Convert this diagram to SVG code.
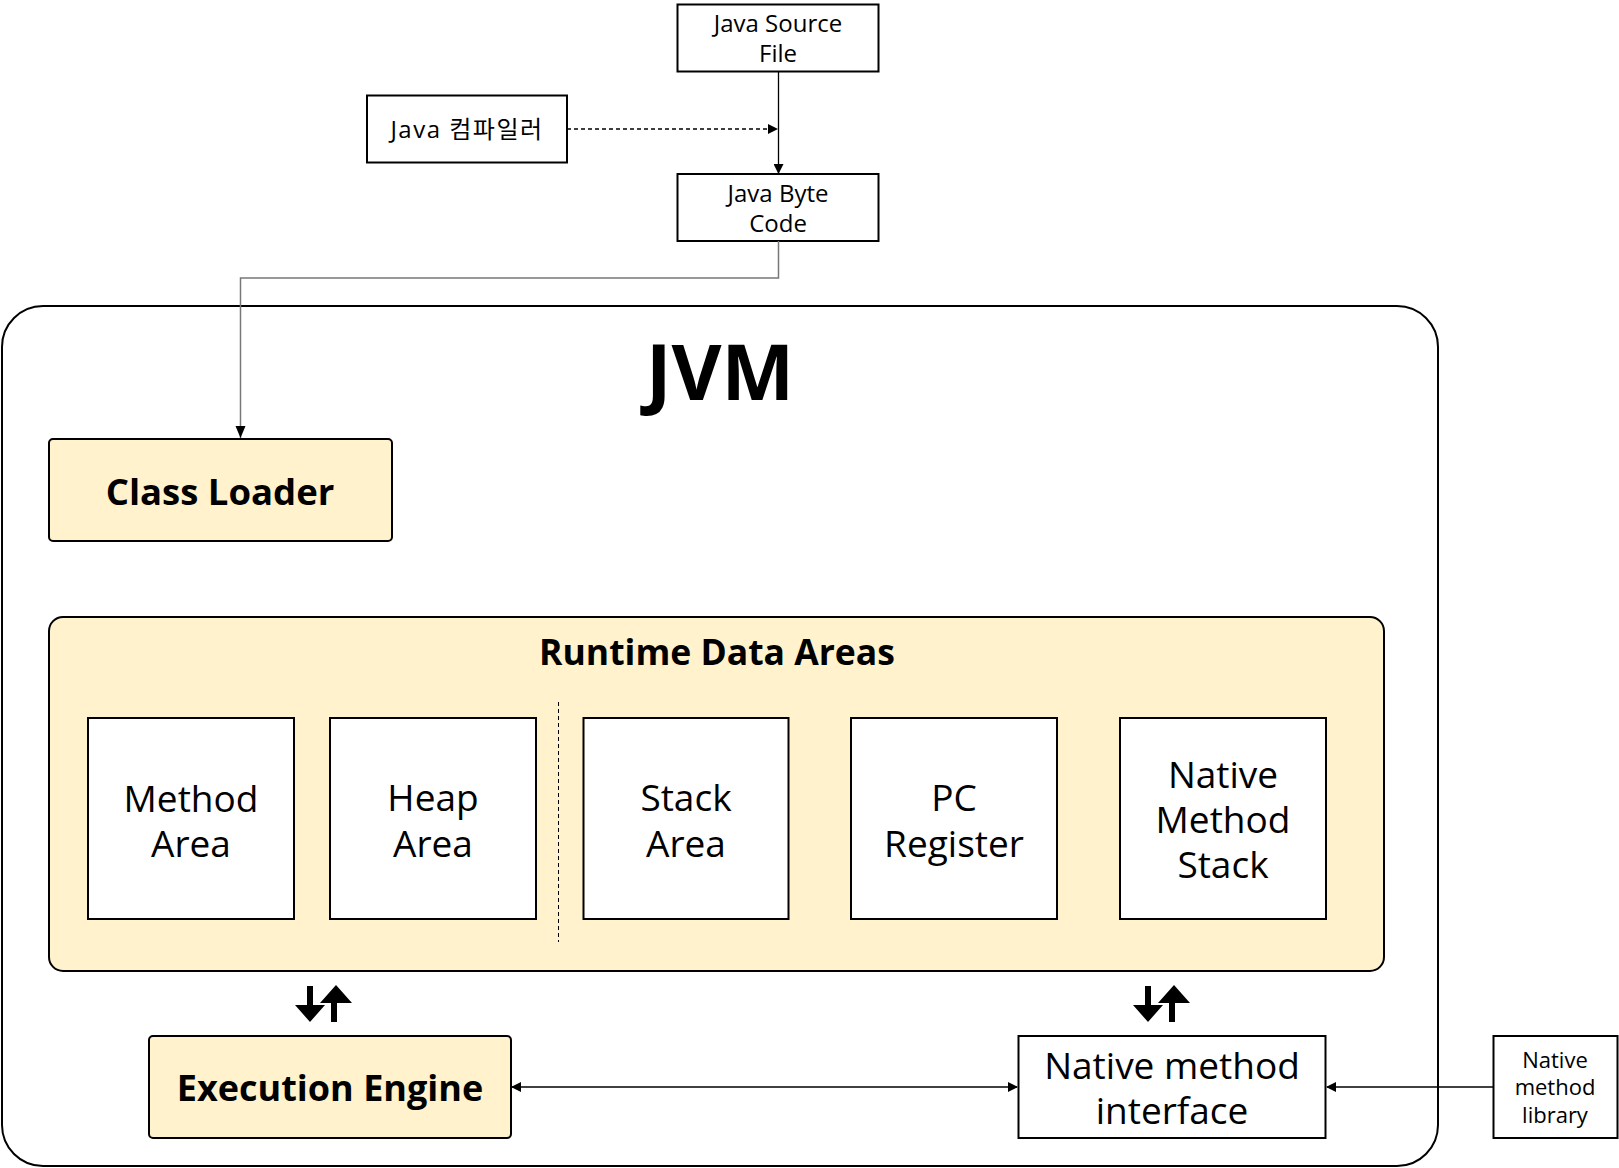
<svg xmlns="http://www.w3.org/2000/svg" width="1619" height="1168" viewBox="0 0 1619 1168">
<style>
text{font-family:"Open Sans","Noto Sans CJK KR",sans-serif;fill:#000;text-anchor:middle}
.box{fill:#fff;stroke:#000;stroke-width:2}
.yel{fill:#FFF2CC;stroke:#000;stroke-width:2}
.sm{font-size:24px}
.xs{font-size:22px}
.md{font-size:37px}
.bd{font-weight:bold}
.ln{fill:none;stroke:#000;stroke-width:1.3}
</style>
<defs>
<marker id="ah" markerWidth="10" markerHeight="10" refX="9" refY="5" orient="auto" markerUnits="userSpaceOnUse">
<path d="M0,0 L10,5 L0,10 z" fill="#000"/>
</marker>
<marker id="ahs" markerWidth="10" markerHeight="10" refX="1" refY="5" orient="auto" markerUnits="userSpaceOnUse">
<path d="M10,0 L0,5 L10,10 z" fill="#000"/>
</marker>
</defs>
<rect width="1619" height="1168" fill="#fff"/>

<g id="jvm">
<rect x="2" y="306" width="1436" height="860" rx="41" ry="41" fill="#fff" stroke="#000" stroke-width="2"/>
<text x="720" y="400" font-size="77" class="bd">JVM</text>
</g>

<g id="java-source-file">
<rect class="box" x="677.5" y="4.5" width="201" height="67"/>
<text class="sm" x="778" y="32">Java Source</text>
<text class="sm" x="778" y="62">File</text>
</g>

<g id="java-compiler">
<rect class="box" x="367" y="95.5" width="200" height="67"/>
<text class="sm" x="467" y="138" letter-spacing="1.5">Java 컴파일러</text>
</g>

<g id="java-byte-code">
<rect class="box" x="677.5" y="174" width="201" height="67"/>
<text class="sm" x="778" y="202">Java Byte</text>
<text class="sm" x="778" y="232">Code</text>
</g>

<g id="class-loader">
<rect class="yel" x="49" y="439" width="343" height="102" rx="4"/>
<text x="220" y="505" font-size="36.5" class="bd">Class Loader</text>
</g>

<g id="runtime-data-areas">
<rect class="yel" x="49" y="617" width="1335" height="354" rx="14"/>
<text x="717" y="665" font-size="35.5" class="bd">Runtime Data Areas</text>
<line x1="558.5" y1="702" x2="558.5" y2="942" stroke="#000" stroke-width="1" stroke-dasharray="4,3"/>
</g>

<g id="method-area">
<rect class="box" x="88" y="718" width="206" height="201"/>
<text class="md" x="191" y="812">Method</text>
<text class="md" x="191" y="857">Area</text>
</g>

<g id="heap-area">
<rect class="box" x="330" y="718" width="206" height="201"/>
<text class="md" x="433" y="811">Heap</text>
<text class="md" x="433" y="857">Area</text>
</g>

<g id="stack-area">
<rect class="box" x="583.5" y="718" width="205" height="201"/>
<text class="md" x="686" y="811">Stack</text>
<text class="md" x="686" y="857">Area</text>
</g>

<g id="pc-register">
<rect class="box" x="851" y="718" width="206" height="201"/>
<text class="md" x="954" y="811">PC</text>
<text class="md" x="954" y="857">Register</text>
</g>

<g id="native-method-stack">
<rect class="box" x="1120" y="718" width="206" height="201"/>
<text class="md" x="1223" y="788">Native</text>
<text class="md" x="1223" y="833">Method</text>
<text class="md" x="1223" y="878">Stack</text>
</g>

<g id="execution-engine">
<rect class="yel" x="149" y="1036" width="362" height="102" rx="4"/>
<text x="330" y="1101" font-size="36" class="bd">Execution Engine</text>
</g>

<g id="native-method-interface">
<rect class="box" x="1018.5" y="1036" width="307" height="102"/>
<text class="md" x="1172" y="1079">Native method</text>
<text class="md" x="1172" y="1124">interface</text>
</g>

<g id="native-method-library">
<rect class="box" x="1493.5" y="1036" width="124" height="102"/>
<text class="xs" x="1555" y="1068">Native</text>
<text class="xs" x="1555" y="1095">method</text>
<text class="xs" x="1555" y="1123">library</text>
</g>

<g id="connectors">
<line class="ln" x1="778.5" y1="71.5" x2="778.5" y2="173" marker-end="url(#ah)"/>
<line class="ln" x1="567" y1="129" x2="777" y2="129" stroke-dasharray="4,3" marker-end="url(#ah)"/>
<path d="M778.5,241 V278 H240.5 V438" fill="none" stroke="#777" stroke-width="1.5"/>
<path d="M240.5,426 L235.5,426 L240.5,438 L245.5,426 z" fill="#000"/>
<line class="ln" x1="512" y1="1087" x2="1017" y2="1087" marker-start="url(#ahs)" marker-end="url(#ah)"/>
<line class="ln" x1="1493" y1="1087" x2="1327" y2="1087" marker-end="url(#ah)"/>
<path d="M307,986 H313 V1005 H325 L310,1022 L295,1005 H307 z" fill="#000"/>
<path d="M331,1022 H337 V1003 H352 L336,985 L320,1003 H331 z" fill="#000"/>
<path d="M1145,986 H1151 V1005 H1163 L1148,1022 L1133,1005 H1145 z" fill="#000"/>
<path d="M1169,1022 H1175 V1003 H1190 L1174,985 L1158,1003 H1169 z" fill="#000"/>
</g>
</svg>
